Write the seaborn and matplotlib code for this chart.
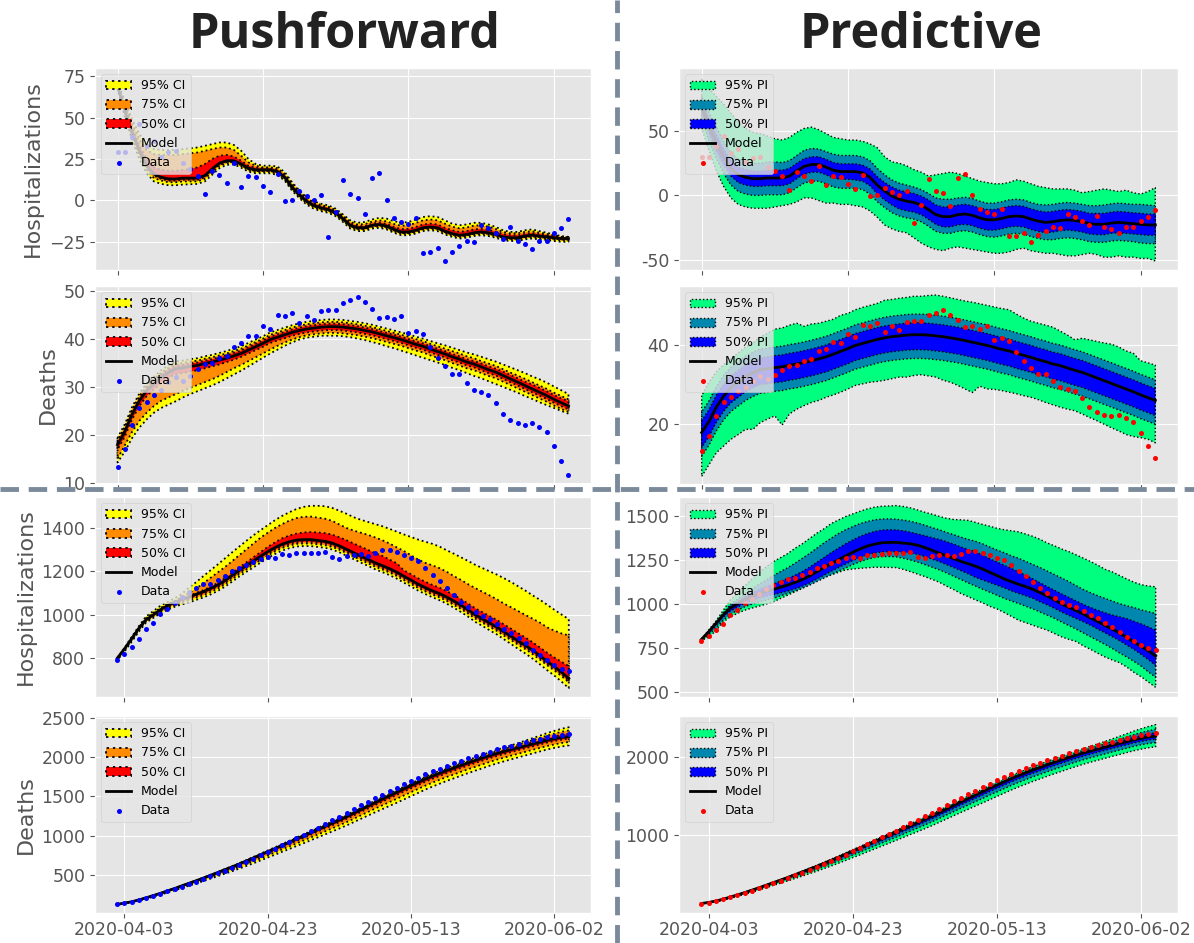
import numpy as np
import pandas as pd
import matplotlib
matplotlib.use("Agg")
import matplotlib.pyplot as plt
import matplotlib.dates as mdates
from matplotlib.lines import Line2D
from matplotlib.ticker import MultipleLocator, FuncFormatter
import seaborn as sns

plt.style.use("ggplot")
plt.rcParams["font.family"] = ["DejaVu Sans"]

# ---------------- dates ----------------
DATES_TOP = pd.date_range("2020-04-03", periods=63, freq="D")
DATES_BOT = pd.date_range("2020-04-02", periods=64, freq="D")
TICK_DATES = ["2020-04-03", "2020-04-23", "2020-05-13", "2020-06-02"]

# ---------------- row 1: daily change in hospitalizations ----------------
H1_DATA = [29.5, 29.5, 38.4, 46, 33, 36, 26, 29, 30, 22.4,
           19.2, 15, 4.2, 18, 15.3, 10.8, 22.9, 8.4, 15, 14.2,
           8.9, 5, 16, -0.5, 0, 6, 2.6, 0.5, 3.4, -21.8,
           -7.1, 12.4, 3.7, 1.6, -7.9, 13.4, 16.8, 0, -10.5, -12.9,
           -14.5, -10.5, -31.8, -31.3, -28.9, -36.6, -31, -27.6, -24.5, -25,
           -14.7, -16.8, -19.7, -23.2, -16.3, -24.5, -26, -29.5, -24.5, -24.5,
           -19.7, -16.6, -11.3]
H1_MODEL = [69, 54, 41, 30, 21, 16, 14, 13, 13, 13.5,
            13.5, 13.5, 15, 19, 22.5, 24, 24, 22, 19.5, 18.5,
            18.5, 18.5, 17.5, 14, 8, 3.5, -0.5, -3, -4.5, -5.5,
            -7.5, -11, -15, -16.5, -16.5, -15, -14.5, -15.5, -17.5, -19,
            -19, -18, -16.5, -16, -16.5, -18.5, -20, -21, -20.5, -19.5,
            -19, -19.5, -20.5, -22, -22.5, -22.5, -21.5, -21, -21.5, -22,
            -22.5, -23, -23]
H1_CI95_HI = [71, 60, 49, 40, 34, 31, 30.5, 30.5, 30.5, 31,
              31.5, 32, 33, 34, 35, 35, 33.5, 30, 25, 22,
              21, 21, 20.5, 17, 11, 6, 2, -0.5, -2, -3,
              -5, -8.5, -12, -13.5, -13, -11.5, -10.5, -11, -12.5, -13.5,
              -13, -11.5, -10, -9.5, -10, -12, -14, -15, -14.5, -13.5,
              -13.5, -14.5, -16, -18, -19, -19, -18, -17.5, -18.5, -19.5,
              -20.5, -21.5, -22]
H1_CI75_HI = [70.5, 58.5, 46.5, 37, 30.5, 28, 27.5, 27.5, 27.5, 28,
              28.5, 29, 30, 31, 32, 32, 30.5, 27, 23, 21,
              20, 20, 19.5, 16, 10, 5.3, 1.3, -1.2, -2.8, -3.8,
              -5.8, -9.3, -13, -14.5, -14.3, -12.8, -12, -12.6, -14.2, -15.3,
              -15, -13.6, -12, -11.5, -12, -14, -15.8, -16.8, -16.3, -15.2,
              -15, -15.8, -17.2, -19, -19.8, -19.8, -19, -18.6, -19.4, -20.2,
              -21, -22, -22.3]
H1_CI50_HI = [70, 57, 44, 33, 25, 20, 18.5, 18, 18, 18.5,
              19, 20, 22, 25, 27, 27.5, 26.5, 24, 21, 19.8,
              19.5, 19.5, 18.5, 15, 9, 4.5, 0.5, -2, -3.5, -4.5,
              -6.5, -10, -14, -15.5, -15.5, -14, -13.3, -14.2, -16, -17.3,
              -17.2, -16, -14.5, -14, -14.5, -16.5, -18, -19, -18.5, -17.5,
              -17.2, -17.8, -18.8, -20.3, -20.9, -21, -20.2, -19.7, -20.3, -20.9,
              -21.5, -22.2, -22.5]
H1_CI50_LO = [68.5, 53, 40, 29, 20, 15, 13, 12, 12, 12.5,
              12.5, 12.5, 14, 18, 21.5, 23.2, 23.3, 21.3, 18.8, 17.8,
              17.8, 17.8, 16.8, 13.3, 7.3, 2.8, -1.1, -3.6, -5.1, -6.1,
              -8.1, -11.6, -15.6, -17.1, -17.1, -15.6, -15.1, -16.1, -18.1, -19.6,
              -19.6, -18.6, -17.1, -16.6, -17.1, -19.1, -20.6, -21.6, -21.1, -20.1,
              -19.6, -20.1, -21.1, -22.6, -23.1, -23.1, -22.1, -21.6, -22.1, -22.6,
              -23.1, -23.6, -23.6]
H1_CI75_LO = [68, 52, 38.5, 27.5, 18.5, 13.5, 12, 11, 11, 11.5,
              11.5, 11.5, 13, 17, 20.8, 22.5, 22.7, 20.7, 18.2, 17.2,
              17.2, 17.2, 16.2, 12.7, 6.7, 2.2, -1.7, -4.2, -5.7, -6.7,
              -8.7, -12.2, -16.2, -17.7, -17.7, -16.2, -15.7, -16.7, -18.7, -20.2,
              -20.2, -19.2, -17.7, -17.2, -17.7, -19.7, -21.2, -22.2, -21.7, -20.7,
              -20.2, -20.7, -21.7, -23.2, -23.7, -23.7, -22.7, -22.2, -22.7, -23.2,
              -23.7, -24.2, -24.2]
H1_CI95_LO = [67.5, 50.5, 36.5, 25, 16.5, 11.5, 10, 9.2, 9.2, 9.6,
              9.8, 10, 11.5, 15.5, 19.5, 21.5, 21.8, 19.8, 17.4, 16.4,
              16.4, 16.4, 15.4, 11.9, 5.9, 1.4, -2.5, -5, -6.5, -7.5,
              -9.5, -13, -17, -18.5, -18.5, -17, -16.5, -17.5, -19.5, -21,
              -21, -20, -18.5, -18, -18.5, -20.5, -22, -23, -22.5, -21.5,
              -21, -21.5, -22.5, -24, -24.5, -24.5, -23.5, -23, -23.5, -24,
              -24.5, -25, -25]
H1_PI95_HI = [90, 83, 77, 71, 64, 57, 52, 49, 48, 46,
              44, 43, 45, 49, 52, 53, 51, 48, 45, 44,
              43, 43, 42, 40, 37, 30, 26, 25, 23, 20,
              18, 15, 16, 17, 18, 17, 15, 13, 11, 10,
              9, 9, 10, 12, 11, 9, 7, 6, 5, 5,
              5, 4, 2, 3, 4, 5, 4, 3, 4, 2,
              1, 3, 6]
H1_PI75_HI = [77, 64, 53, 42, 33, 28, 26, 25, 25, 26,
              26, 25.5, 27, 31, 35, 36.5, 36, 34, 32, 31,
              31, 31, 30, 27, 21, 16, 12, 9.5, 8, 6.5,
              4.5, 1.5, -2, -3, -3, -2, -1.5, -2.5, -4.5, -6,
              -6, -5, -3.5, -3, -3.5, -5.5, -7, -7.5, -7, -6,
              -5.5, -6, -7, -8, -8, -7.5, -6.5, -6, -6.5, -7,
              -7, -7.5, -8]
H1_PI50_HI = [73, 59, 47, 36, 27, 22, 20, 19, 19, 19.5,
              19.5, 19.5, 21, 25, 28.5, 30, 30, 28, 25.5, 24.5,
              24.5, 24.5, 23.5, 20.5, 14.5, 10, 6.5, 4, 2.5, 1.5,
              -0.5, -3.5, -7.5, -9, -9, -7.5, -7, -8, -10, -11,
              -11, -10, -8.5, -8, -8.5, -10.5, -12, -13, -12.5, -11.5,
              -11, -11.5, -12.5, -14, -14, -14, -13, -12.5, -13, -13.5,
              -14, -14.5, -14.5]
H1_PI50_LO = [65, 49, 35, 24, 15, 10, 8, 7, 7, 7.5,
              7.5, 7.5, 9, 13, 16.5, 18, 18, 16, 13.5, 12.5,
              12.5, 12, 11, 7.5, 1, -3.5, -7.5, -10.5, -12, -13,
              -15, -18.5, -22.5, -24.5, -24.5, -23, -22.5, -23.5, -25.5, -27,
              -27, -26, -24.5, -24, -24.5, -26.5, -28, -29, -28.5, -27.5,
              -27, -27.5, -28.5, -30, -30.5, -30.5, -29.5, -29, -29.5, -30,
              -30.5, -31, -31]
H1_PI75_LO = [60, 42, 29, 17, 8, 3, 1, 0, 0, 0.5,
              0.5, 0.5, 2, 6, 9.5, 11, 11, 9, 6.5, 5.5,
              5.5, 5.5, 4.5, 1, -5, -9.5, -13.5, -16, -17.5, -18.5,
              -20.5, -24, -28, -29.5, -29.5, -28, -27.5, -28.5, -30.5, -32,
              -32.5, -31.5, -30, -29.5, -30, -32, -33.5, -34.5, -34.5, -33.5,
              -33, -33.5, -34.5, -36, -36.5, -36.5, -35.5, -35, -35.5, -36,
              -37, -37.5, -37.5]
H1_PI95_LO = [52, 35, 19, 7, -2, -7, -9, -10, -10, -10,
              -9, -8, -7, -5, -2, -2, -4, -6, -6, -7,
              -7, -8, -9, -12, -17, -23, -26, -28, -29, -33,
              -37, -40, -42, -43, -41, -40, -41, -42, -43, -44,
              -45, -45, -44, -42, -41, -43, -44, -45, -45, -46,
              -47, -47, -46, -45, -46, -48, -48, -47, -48, -48,
              -49, -49, -51]

# ---------------- row 2: daily deaths ----------------
D1_DATA = [13.3, 17, 22.1, 25.5, 26.8, 28.4, 29.4, 31, 32.1, 31.3,
           32.3, 33.8, 34.7, 35, 36, 36.5, 38.4, 39.1, 40.7, 40.6,
           42.8, 42.1, 45, 44.8, 45.5, 43.3, 44.8, 43.9, 45.9, 46.1,
           46.1, 47.5, 48.2, 48.8, 47.7, 46.2, 44.5, 44.7, 44.1, 44.9,
           41.3, 41.7, 41, 38.3, 36, 34.3, 32.6, 32.8, 30.8, 29.4,
           28.9, 28.4, 26.7, 24.4, 23.1, 22.4, 22.1, 22.4, 21.6, 20.5,
           17.7, 14.6, 11.5]
D1_MODEL = [17.9, 20.7, 24.3, 27.1, 29.2, 30.6, 32, 33, 33.8, 34,
            34.3, 34.5, 34.9, 35.2, 35.6, 36, 36.5, 37, 37.7, 38.4,
            39.1, 39.9, 40.4, 40.9, 41.4, 41.8, 42.1, 42.3, 42.5, 42.6,
            42.6, 42.5, 42.3, 42.1, 41.8, 41.5, 41.1, 40.7, 40.3, 39.9,
            39.4, 38.9, 38.5, 37.9, 37.4, 36.9, 36.3, 35.8, 35.2, 34.8,
            34.2, 33.6, 33.1, 32.4, 31.7, 31, 30.3, 29.6, 28.9, 28.2,
            27.4, 26.7, 26]
D1_CI95_HI = [19.4, 22.2, 25.8, 28.6, 30.7, 32.1, 33.5, 34.5, 35.3, 35.5,
              35.8, 36, 36.4, 36.7, 37.1, 37.5, 38, 38.5, 39.2, 39.9,
              40.6, 41.4, 41.9, 42.4, 42.9, 43.3, 43.6, 43.8, 44, 44.1,
              44.1, 44, 43.8, 43.6, 43.3, 43, 42.6, 42.2, 41.8, 41.4,
              41, 40.5, 40.1, 39.6, 39.1, 38.7, 38.2, 37.7, 37.2, 36.8,
              36.3, 35.8, 35.3, 34.7, 34.1, 33.5, 32.9, 32.2, 31.6, 30.9,
              30.1, 29.3, 28.5]
D1_CI75_HI = [18.9, 21.7, 25.3, 28.1, 30.2, 31.6, 33, 34, 34.8, 35,
              35.3, 35.5, 35.9, 36.2, 36.6, 37, 37.5, 38, 38.7, 39.4,
              40.1, 40.9, 41.4, 41.9, 42.4, 42.8, 43.1, 43.3, 43.5, 43.6,
              43.6, 43.5, 43.3, 43.1, 42.8, 42.5, 42.1, 41.7, 41.3, 40.9,
              40.5, 40, 39.6, 39, 38.5, 38, 37.5, 37, 36.4, 36,
              35.4, 34.9, 34.4, 33.7, 33, 32.4, 31.7, 31, 30.3, 29.6,
              28.8, 28.1, 27.4]
D1_CI50_HI = [18.5, 21.3, 24.9, 27.7, 29.8, 31.2, 32.6, 33.6, 34.4, 34.6,
              34.9, 35.1, 35.5, 35.8, 36.2, 36.6, 37.1, 37.6, 38.3, 39,
              39.7, 40.5, 41, 41.5, 42, 42.4, 42.7, 42.9, 43.1, 43.2,
              43.2, 43.1, 42.9, 42.7, 42.4, 42.1, 41.7, 41.3, 40.9, 40.5,
              40, 39.5, 39.1, 38.5, 38, 37.5, 36.9, 36.4, 35.8, 35.4,
              34.9, 34.3, 33.8, 33.2, 32.5, 31.8, 31.1, 30.5, 29.8, 29.1,
              28.3, 27.6, 27]
D1_CI50_LO = [16.9, 19.6, 23.2, 26, 28.1, 29.5, 30.9, 31.9, 32.7, 32.9,
              33.2, 33.5, 33.9, 34.3, 34.7, 35.2, 35.7, 36.3, 37, 37.7,
              38.4, 39.2, 39.7, 40.2, 40.7, 41.1, 41.4, 41.6, 41.8, 41.9,
              41.9, 41.8, 41.6, 41.4, 41.1, 40.8, 40.4, 40, 39.6, 39.2,
              38.7, 38.2, 37.8, 37.2, 36.7, 36.2, 35.6, 35.1, 34.5, 34.1,
              33.5, 32.9, 32.4, 31.7, 31, 30.3, 29.6, 28.9, 28.2, 27.5,
              26.7, 26, 25.3]
D1_CI75_LO = [15, 17.8, 20.6, 22.9, 24.6, 26, 27.1, 27.8, 28.5, 29.2,
              29.8, 30.4, 31, 31.6, 32.3, 33.1, 33.9, 34.6, 35.4, 36.2,
              37, 37.8, 38.6, 39.3, 39.9, 40.4, 40.8, 41, 41.2, 41.3,
              41.3, 41.2, 41, 40.8, 40.5, 40.2, 39.8, 39.4, 39, 38.6,
              38.1, 37.6, 37.2, 36.6, 36.1, 35.6, 35, 34.5, 33.9, 33.5,
              32.9, 32.3, 31.8, 31.1, 30.4, 29.7, 29, 28.3, 27.6, 26.9,
              26.1, 25.4, 24.8]
D1_CI95_LO = [14.2, 16.5, 19.3, 21.5, 23.2, 24.6, 25.6, 26.3, 27, 27.8,
              28.5, 29.1, 29.7, 30.3, 31, 31.8, 32.6, 33.4, 34.3, 35.2,
              36.1, 37, 37.8, 38.6, 39.3, 39.9, 40.3, 40.5, 40.7, 40.7,
              40.7, 40.6, 40.4, 40.1, 39.8, 39.4, 39, 38.5, 38.1, 37.6,
              37.1, 36.6, 36.1, 35.6, 35.1, 34.6, 34, 33.5, 32.9, 32.3,
              31.8, 31.2, 30.6, 30, 29.4, 28.8, 28.1, 27.5, 26.8, 26.2,
              25.6, 25, 24.4]
D1_PI95_HI = [27.2, 30.6, 33.2, 35, 36.5, 38, 39.5, 40.5, 42, 43,
              44, 44.3, 45, 45.5, 44.7, 45.3, 45.5, 46, 46.5, 47.5,
              48, 48.9, 49.5, 50, 50.5, 51.3, 51.5, 51.8, 52, 52.3,
              52.3, 52.5, 52.6, 52.3, 51.9, 51.5, 51.1, 50.8, 50.4, 50,
              49.6, 49.2, 48.9, 47.8, 46.8, 46, 45.5, 45, 44.5, 43.5,
              42.5, 41.3, 41.7, 41.3, 40.9, 40.5, 40.2, 39.5, 38.5, 37.9,
              36, 35.5, 34.9]
D1_PI75_HI = [23.1, 25.9, 29.5, 32.3, 34.4, 35.8, 37.2, 38.2, 39, 39.2,
              39.5, 39.7, 40.1, 40.4, 40.8, 41.2, 41.7, 42.2, 42.9, 43.6,
              44.3, 45.1, 45.6, 46.1, 46.6, 47, 47.3, 47.5, 47.7, 47.8,
              47.8, 47.7, 47.5, 47.3, 47, 46.7, 46.3, 45.9, 45.5, 45.1,
              44.6, 44.1, 43.7, 43.1, 42.6, 42.1, 41.5, 41, 40.4, 40,
              39.4, 38.8, 38.3, 37.6, 36.9, 36.2, 35.5, 34.8, 34.1, 33.4,
              32.6, 31.9, 31.2]
D1_PI50_HI = [20.9, 23.7, 27.3, 30.1, 32.2, 33.6, 35, 36, 36.8, 37,
              37.3, 37.5, 37.9, 38.2, 38.6, 39, 39.5, 40, 40.7, 41.4,
              42.1, 42.9, 43.4, 43.9, 44.4, 44.8, 45.1, 45.3, 45.5, 45.6,
              45.6, 45.5, 45.3, 45.1, 44.8, 44.5, 44.1, 43.7, 43.3, 42.9,
              42.4, 41.9, 41.5, 40.9, 40.4, 39.9, 39.3, 38.8, 38.2, 37.8,
              37.2, 36.6, 36.1, 35.4, 34.7, 34, 33.3, 32.6, 31.9, 31.2,
              30.4, 29.7, 29]
D1_PI50_LO = [14.1, 16.9, 20.5, 23.3, 25.4, 26.8, 28.2, 29.2, 30, 30.2,
              30.5, 30.7, 31.1, 31.4, 31.8, 32.2, 32.7, 33.2, 33.9, 34.6,
              35.3, 36.1, 36.6, 37.1, 37.6, 38, 38.3, 38.5, 38.7, 38.8,
              38.8, 38.7, 38.5, 38.3, 38, 37.7, 37.3, 36.9, 36.5, 36.1,
              35.6, 35.1, 34.7, 34.1, 33.6, 33.1, 32.5, 32, 31.4, 31,
              30.4, 29.8, 29.3, 28.6, 27.9, 27.2, 26.5, 25.8, 25.1, 24.4,
              23.6, 22.9, 22.2]
D1_PI75_LO = [11.9, 14.7, 18.3, 21.1, 23.2, 24.6, 26, 27, 27.8, 28,
              28.3, 28.5, 28.9, 29.2, 29.6, 30, 30.5, 31, 31.7, 32.4,
              33.1, 33.9, 34.4, 34.9, 35.4, 35.8, 36.1, 36.3, 36.5, 36.6,
              36.6, 36.5, 36.3, 36.1, 35.8, 35.5, 35.1, 34.7, 34.3, 33.9,
              33.4, 32.9, 32.5, 31.9, 31.4, 30.9, 30.3, 29.8, 29.2, 28.8,
              28.2, 27.6, 27.1, 26.4, 25.7, 25, 24.3, 23.6, 22.9, 22.2,
              21.4, 20.7, 20]
D1_PI95_LO = [6.8, 9.8, 12.8, 14.5, 16.2, 17.4, 18.7, 18.7, 20.4, 21.3,
              22.1, 19.8, 22.6, 23.8, 24.7, 25.5, 26, 26.8, 27.4, 28.1,
              28.9, 29.8, 30.2, 30.6, 30.8, 31.1, 31.5, 31.9, 31.9, 32.3,
              32.5, 32.2, 31.9, 31.1, 30.6, 29.8, 28.9, 28, 29.6, 28.9,
              28.8, 28.5, 28.1, 27.7, 27.2, 26.8, 26.2, 25.5, 24.9, 24.3,
              23.8, 23.4, 22.6, 21.7, 20.9, 20, 19.1, 18.3, 17.4, 16.9,
              16.6, 16.2, 15.3]

# ---------------- row 3: hospitalizations ----------------
H2_DATA = [787, 817, 848, 887, 933, 963, 1002, 1027, 1054, 1081,
           1105, 1125, 1141, 1144, 1162, 1178, 1200, 1215, 1230, 1245,
           1258, 1265, 1262, 1279, 1275, 1284, 1287, 1287, 1287, 1292,
           1268, 1260, 1273, 1278, 1279, 1270, 1284, 1300, 1300, 1290,
           1276, 1262, 1249, 1217, 1186, 1157, 1121, 1089, 1059, 1035,
           1011, 995, 979, 957, 935, 916, 892, 868, 837, 811,
           789, 765, 749, 737]
H2_MODEL = [797, 840, 887, 935, 975, 998, 1022, 1041, 1057, 1070,
            1081, 1094, 1106, 1121, 1137, 1157, 1181, 1205, 1227, 1249,
            1271, 1292, 1311, 1327, 1338, 1346, 1348, 1348, 1344, 1340,
            1332, 1319, 1303, 1287, 1271, 1256, 1240, 1227, 1213, 1197,
            1178, 1160, 1141, 1125, 1110, 1097, 1081, 1062, 1043, 1021,
            998, 979, 960, 941, 919, 898, 876, 856, 833, 808,
            782, 758, 732, 703]
H2_CI95_HI = [797, 845, 895, 945, 990, 1015, 1040, 1058, 1075, 1095,
              1125, 1150, 1178, 1205, 1232, 1260, 1288, 1315, 1342, 1368,
              1392, 1415, 1438, 1458, 1475, 1490, 1500, 1505, 1505, 1503,
              1495, 1482, 1468, 1452, 1440, 1430, 1420, 1410, 1398, 1385,
              1372, 1360, 1348, 1338, 1328, 1315, 1298, 1282, 1265, 1248,
              1230, 1215, 1200, 1185, 1168, 1150, 1130, 1110, 1088, 1068,
              1045, 1022, 1000, 978]
H2_CI75_HI = [797, 843, 891, 940, 983, 1007, 1030, 1048, 1064, 1080,
              1100, 1120, 1145, 1170, 1195, 1220, 1247, 1275, 1302, 1330,
              1357, 1380, 1402, 1420, 1436, 1448, 1454, 1455, 1450, 1445,
              1435, 1418, 1402, 1390, 1380, 1370, 1358, 1345, 1330, 1312,
              1295, 1275, 1255, 1240, 1228, 1215, 1198, 1178, 1160, 1140,
              1122, 1105, 1088, 1070, 1050, 1033, 1015, 997, 980, 962,
              940, 925, 912, 903]
H2_CI50_HI = [797, 841, 889, 938, 979, 1002, 1026, 1045, 1061, 1074,
              1086, 1100, 1113, 1129, 1146, 1168, 1193, 1218, 1242, 1266,
              1290, 1314, 1335, 1354, 1367, 1376, 1381, 1383, 1381, 1378,
              1371, 1359, 1345, 1330, 1315, 1300, 1285, 1272, 1255, 1238,
              1205, 1187, 1168, 1152, 1137, 1124, 1108, 1090, 1071, 1050,
              1028, 1010, 992, 974, 953, 933, 912, 892, 870, 846,
              822, 800, 780, 760]
H2_CI50_LO = [792, 835, 882, 930, 970, 993, 1016, 1035, 1050, 1063,
              1073, 1086, 1097, 1112, 1128, 1148, 1172, 1195, 1217, 1239,
              1261, 1282, 1301, 1317, 1328, 1336, 1338, 1338, 1334, 1330,
              1322, 1309, 1293, 1277, 1261, 1246, 1230, 1217, 1203, 1187,
              1168, 1150, 1131, 1115, 1100, 1087, 1071, 1052, 1033, 1011,
              988, 969, 950, 931, 909, 888, 866, 846, 823, 798,
              772, 748, 722, 693]
H2_CI75_LO = [789, 832, 879, 927, 966, 988, 1011, 1029, 1044, 1056,
              1066, 1078, 1089, 1104, 1120, 1140, 1163, 1187, 1209, 1231,
              1253, 1274, 1293, 1309, 1320, 1328, 1330, 1330, 1326, 1322,
              1314, 1301, 1285, 1269, 1253, 1238, 1222, 1209, 1195, 1179,
              1160, 1142, 1123, 1107, 1092, 1079, 1063, 1044, 1025, 1003,
              980, 961, 942, 923, 901, 880, 858, 838, 815, 790,
              764, 740, 714, 685]
H2_CI95_LO = [787, 828, 873, 920, 962, 984, 1005, 1022, 1036, 1047,
              1056, 1068, 1079, 1093, 1109, 1129, 1152, 1176, 1198, 1219,
              1241, 1262, 1281, 1297, 1308, 1316, 1318, 1318, 1314, 1310,
              1302, 1289, 1273, 1257, 1241, 1226, 1210, 1197, 1183, 1167,
              1148, 1130, 1111, 1095, 1080, 1066, 1050, 1031, 1011, 989,
              965, 946, 926, 907, 884, 862, 839, 818, 794, 768,
              741, 716, 688, 658]
H2_PI95_HI = [797, 850, 900, 960, 1020, 1060, 1100, 1140, 1175, 1210,
              1239, 1262, 1285, 1315, 1340, 1370, 1400, 1425, 1455, 1475,
              1495, 1510, 1525, 1538, 1548, 1553, 1555, 1557, 1552, 1544,
              1532, 1519, 1508, 1496, 1485, 1478, 1476, 1473, 1462, 1450,
              1440, 1428, 1420, 1414, 1408, 1395, 1382, 1365, 1344, 1328,
              1310, 1295, 1277, 1258, 1239, 1218, 1195, 1180, 1160, 1140,
              1122, 1108, 1100, 1096]
H2_PI75_HI = [797, 845, 893, 945, 995, 1025, 1055, 1085, 1110, 1135,
              1160, 1183, 1205, 1230, 1258, 1285, 1315, 1345, 1372, 1398,
              1420, 1438, 1455, 1467, 1476, 1481, 1482, 1480, 1475, 1468,
              1458, 1446, 1432, 1420, 1405, 1392, 1378, 1365, 1355, 1340,
              1322, 1305, 1290, 1272, 1258, 1240, 1222, 1205, 1185, 1165,
              1145, 1125, 1102, 1080, 1062, 1045, 1030, 1015, 1000, 988,
              978, 965, 955, 944]
H2_PI50_HI = [797, 843, 890, 940, 985, 1010, 1037, 1060, 1080, 1097,
              1112, 1128, 1143, 1162, 1183, 1207, 1235, 1262, 1290, 1315,
              1340, 1362, 1382, 1398, 1410, 1418, 1420, 1419, 1414, 1406,
              1396, 1386, 1375, 1365, 1352, 1338, 1322, 1308, 1295, 1275,
              1255, 1237, 1218, 1200, 1180, 1160, 1140, 1118, 1096, 1076,
              1055, 1035, 1015, 995, 978, 962, 948, 935, 925, 915,
              900, 885, 868, 849]
H2_PI50_LO = [793, 832, 875, 922, 958, 980, 1002, 1018, 1032, 1043,
              1052, 1062, 1072, 1085, 1100, 1118, 1140, 1162, 1184, 1205,
              1225, 1245, 1262, 1278, 1288, 1294, 1296, 1296, 1292, 1287,
              1280, 1268, 1253, 1239, 1222, 1205, 1188, 1170, 1150, 1135,
              1120, 1105, 1090, 1073, 1058, 1045, 1030, 1010, 993, 973,
              952, 933, 915, 897, 877, 855, 834, 812, 790, 765,
              740, 712, 682, 649]
H2_PI75_LO = [791, 822, 860, 905, 940, 962, 982, 997, 1010, 1020,
              1030, 1045, 1058, 1072, 1088, 1105, 1125, 1145, 1165, 1185,
              1203, 1222, 1238, 1252, 1262, 1267, 1268, 1266, 1258, 1248,
              1236, 1222, 1207, 1192, 1175, 1155, 1137, 1118, 1100, 1082,
              1065, 1048, 1030, 1015, 1001, 985, 970, 952, 934, 916,
              895, 875, 855, 833, 811, 790, 768, 745, 720, 697,
              672, 645, 612, 582]
H2_PI95_LO = [790, 810, 845, 895, 925, 945, 963, 975, 986, 998,
              1011, 1030, 1049, 1068, 1087, 1110, 1134, 1150, 1163, 1178,
              1192, 1197, 1201, 1204, 1207, 1207, 1206, 1205, 1195, 1182,
              1168, 1154, 1138, 1122, 1100, 1080, 1058, 1040, 1022, 1005,
              985, 970, 950, 928, 906, 892, 877, 863, 849, 830,
              811, 797, 785, 760, 740, 718, 697, 680, 665, 640,
              610, 585, 555, 525]

# ---------------- row 4: cumulative deaths ----------------
D2_DATA = [126, 139, 156, 178, 204, 231, 259, 289, 320, 352,
           383, 415, 449, 484, 519, 555, 591, 630, 669, 709,
           750, 793, 835, 880, 925, 970, 1014, 1058, 1102, 1148,
           1194, 1240, 1288, 1336, 1385, 1433, 1479, 1523, 1568, 1612,
           1657, 1698, 1740, 1781, 1819, 1855, 1890, 1922, 1955, 1986,
           2015, 2044, 2072, 2099, 2124, 2147, 2169, 2191, 2214, 2235,
           2256, 2273, 2288, 2299]
D2_MODEL = [126, 140, 158, 181, 208, 236, 265, 296, 327, 360,
            393, 425, 459, 494, 529, 565, 600, 638, 676, 715,
            755, 795, 834, 875, 915, 955, 995, 1036, 1077, 1118,
            1159, 1200, 1242, 1287, 1332, 1377, 1422, 1465, 1509, 1552,
            1597, 1638, 1680, 1721, 1759, 1795, 1831, 1863, 1897, 1929,
            1960, 1990, 2020, 2048, 2073, 2097, 2121, 2145, 2169, 2192,
            2216, 2235, 2252, 2264]
D2_CI95_HI = [126, 141, 159, 183, 210, 239, 268, 300, 331, 365,
              398, 431, 466, 502, 538, 575, 611, 650, 689, 729,
              770, 811, 851, 893, 934, 975, 1016, 1058, 1100, 1142,
              1179, 1221, 1264, 1310, 1355, 1401, 1447, 1491, 1535, 1579,
              1625, 1667, 1710, 1751, 1790, 1827, 1864, 1897, 1932, 1965,
              1998, 2030, 2063, 2094, 2123, 2152, 2182, 2213, 2244, 2275,
              2308, 2336, 2362, 2382]
D2_CI75_HI = [126, 141, 159, 182, 209, 238, 267, 299, 330, 363,
              396, 429, 464, 499, 535, 572, 607, 646, 684, 724,
              765, 805, 845, 887, 927, 968, 1009, 1050, 1092, 1134,
              1172, 1214, 1256, 1302, 1347, 1393, 1438, 1482, 1526, 1570,
              1615, 1657, 1700, 1741, 1779, 1816, 1852, 1885, 1920, 1952,
              1985, 2016, 2048, 2078, 2106, 2133, 2161, 2189, 2218, 2246,
              2276, 2301, 2324, 2341]
D2_CI50_HI = [126, 140, 158, 182, 209, 237, 266, 297, 328, 362,
              395, 427, 461, 496, 532, 568, 603, 642, 680, 719,
              760, 800, 839, 880, 921, 961, 1001, 1043, 1084, 1125,
              1165, 1206, 1249, 1294, 1339, 1384, 1430, 1473, 1517, 1560,
              1605, 1647, 1689, 1730, 1768, 1805, 1841, 1873, 1908, 1940,
              1971, 2002, 2033, 2062, 2088, 2114, 2139, 2165, 2192, 2217,
              2244, 2265, 2285, 2299]
D2_CI50_LO = [126, 139, 156, 179, 205, 232, 261, 291, 321, 353,
              386, 417, 450, 484, 518, 553, 587, 624, 661, 698,
              738, 777, 815, 855, 894, 933, 972, 1012, 1053, 1093,
              1133, 1173, 1214, 1258, 1303, 1347, 1391, 1434, 1477, 1519,
              1563, 1604, 1646, 1688, 1726, 1762, 1798, 1830, 1864, 1896,
              1927, 1958, 1988, 2016, 2042, 2066, 2091, 2115, 2139, 2162,
              2187, 2206, 2223, 2236]
D2_CI75_LO = [126, 138, 154, 175, 201, 227, 254, 283, 312, 343,
              374, 404, 435, 468, 500, 534, 567, 602, 638, 674,
              712, 749, 786, 825, 863, 901, 939, 977, 1016, 1055,
              1094, 1133, 1173, 1216, 1259, 1303, 1346, 1387, 1429, 1470,
              1513, 1555, 1597, 1638, 1677, 1713, 1749, 1781, 1816, 1848,
              1879, 1910, 1941, 1970, 1995, 2021, 2045, 2070, 2095, 2119,
              2143, 2163, 2181, 2194]
D2_CI95_LO = [126, 137, 152, 172, 196, 221, 247, 275, 303, 333,
              363, 391, 421, 452, 483, 515, 546, 580, 614, 649,
              685, 722, 757, 795, 831, 868, 904, 942, 979, 1017,
              1054, 1092, 1131, 1173, 1215, 1257, 1299, 1339, 1380, 1420,
              1462, 1504, 1546, 1588, 1626, 1663, 1699, 1732, 1766, 1799,
              1830, 1861, 1893, 1922, 1948, 1974, 1999, 2024, 2049, 2074,
              2099, 2119, 2137, 2151]
D2_PI95_HI = [129, 143, 162, 185, 213, 241, 271, 302, 334, 367,
              401, 434, 469, 505, 541, 578, 614, 653, 692, 732,
              773, 814, 854, 896, 937, 978, 1019, 1061, 1103, 1145,
              1187, 1229, 1271, 1317, 1363, 1408, 1454, 1498, 1543, 1587,
              1633, 1675, 1718, 1760, 1799, 1836, 1873, 1906, 1941, 1974,
              2007, 2040, 2073, 2105, 2135, 2165, 2196, 2228, 2261, 2294,
              2328, 2358, 2386, 2409]
D2_PI75_HI = [128, 142, 160, 183, 211, 239, 269, 300, 331, 364,
              398, 430, 465, 501, 536, 573, 608, 647, 686, 725,
              766, 806, 846, 888, 928, 969, 1009, 1051, 1093, 1134,
              1176, 1217, 1259, 1305, 1351, 1396, 1441, 1485, 1529, 1573,
              1619, 1660, 1703, 1744, 1783, 1820, 1856, 1889, 1923, 1956,
              1988, 2020, 2052, 2082, 2110, 2138, 2166, 2195, 2224, 2253,
              2283, 2309, 2332, 2351]
D2_PI50_HI = [127, 141, 159, 182, 209, 237, 267, 298, 329, 362,
              395, 428, 462, 497, 532, 569, 604, 642, 680, 720,
              760, 800, 840, 881, 921, 961, 1002, 1043, 1084, 1126,
              1167, 1208, 1250, 1295, 1341, 1386, 1431, 1474, 1519, 1562,
              1607, 1648, 1691, 1732, 1770, 1806, 1843, 1875, 1909, 1942,
              1973, 2004, 2035, 2064, 2090, 2116, 2142, 2168, 2195, 2221,
              2247, 2269, 2290, 2305]
D2_PI50_LO = [125, 138, 155, 177, 204, 231, 259, 289, 319, 351,
              383, 414, 447, 480, 514, 549, 583, 619, 656, 694,
              733, 772, 810, 850, 889, 928, 967, 1007, 1047, 1087,
              1127, 1167, 1208, 1252, 1296, 1341, 1385, 1427, 1470, 1512,
              1556, 1597, 1639, 1680, 1718, 1754, 1790, 1822, 1856, 1888,
              1919, 1950, 1980, 2008, 2033, 2058, 2082, 2106, 2130, 2153,
              2177, 2196, 2213, 2226]
D2_PI75_LO = [124, 136, 152, 173, 198, 225, 252, 280, 310, 341,
              372, 401, 433, 465, 497, 531, 563, 598, 633, 670,
              707, 745, 782, 821, 859, 897, 934, 973, 1012, 1051,
              1090, 1129, 1169, 1213, 1256, 1299, 1342, 1383, 1426, 1467,
              1510, 1551, 1593, 1634, 1672, 1708, 1744, 1776, 1810, 1842,
              1873, 1904, 1934, 1962, 1988, 2012, 2036, 2061, 2085, 2109,
              2133, 2152, 2169, 2182]
D2_PI95_LO = [123, 134, 148, 168, 192, 217, 243, 270, 298, 328,
              358, 386, 415, 446, 476, 508, 538, 572, 605, 640,
              675, 712, 747, 785, 821, 858, 894, 932, 969, 1007,
              1044, 1082, 1121, 1163, 1205, 1247, 1289, 1329, 1370, 1410,
              1452, 1493, 1535, 1576, 1614, 1650, 1686, 1718, 1752, 1784,
              1815, 1846, 1876, 1905, 1931, 1956, 1980, 2005, 2029, 2053,
              2077, 2097, 2114, 2127]

CI_COLORS = ["#FFFF00", "#FF8C00", "#FF0000"]
PI_COLORS = ["#00FF7F", "#0087AD", "#0000FF"]
LEVELS = ["95%", "75%", "50%"]

W, H = 1194, 943
fig = plt.figure(figsize=(W / 100, H / 100), dpi=100)

COLS = {"L": (95, 591), "R": (679, 1178)}
ROWS = [(68, 270), (286, 484), (497, 697), (716, 913)]


def make_ax(col, row):
    x0, x1 = COLS[col]
    y0, y1 = ROWS[row]
    return fig.add_axes([x0 / W, 1 - y1 / H, (x1 - x0) / W, (y1 - y0) / H])


def draw(ax, x, bands, model, data, colors, tag, dot_color, ylabel, ylim,
         step, bottom, hyphen, lw_edge):
    handles = []
    for (lo, hi), c, lev in zip(bands, colors, LEVELS):
        h = ax.fill_between(x, lo, hi, facecolor=c, edgecolor="black",
                            linestyle=":", linewidth=lw_edge,
                            label=f"{lev} {tag}", zorder=1)
        handles.append(h)
    sns.lineplot(x=x, y=model, color="black", linewidth=2, ax=ax,
                 label="Model", zorder=2)
    line = ax.lines[-1]
    sns.scatterplot(x=x, y=data, color=dot_color, s=13, linewidth=0,
                    ax=ax, label="Data", zorder=3)
    scat = ax.collections[-1]
    ax.legend(handles + [line, scat],
              [f"{l} {tag}" for l in LEVELS] + ["Model", "Data"],
              loc="upper left", fontsize=9, scatterpoints=1)
    ax.set_ylim(*ylim)
    ax.yaxis.set_major_locator(MultipleLocator(step))
    if hyphen:
        ax.yaxis.set_major_formatter(FuncFormatter(lambda v, p: f"{v:g}"))
    pad = pd.Timedelta(days=3.1)
    ax.set_xlim(x[0] - pad, x[-1] + pad)
    ax.set_xticks(pd.to_datetime(TICK_DATES))
    ax.xaxis.set_major_formatter(mdates.DateFormatter("%Y-%m-%d"))
    ax.tick_params(labelsize=12.5, colors="#555555")
    ax.tick_params(axis="x", labelbottom=bottom, pad=2.5)
    ax.set_xlabel("")
    ax.set_ylabel(ylabel if ylabel else "", fontsize=16, color="#555555")


rows = [
    (DATES_TOP, H1_MODEL, H1_DATA,
     [(H1_CI95_LO, H1_CI95_HI), (H1_CI75_LO, H1_CI75_HI), (H1_CI50_LO, H1_CI50_HI)],
     [(H1_PI95_LO, H1_PI95_HI), (H1_PI75_LO, H1_PI75_HI), (H1_PI50_LO, H1_PI50_HI)],
     "Hospitalizations", (-42, 80), 25, (-58, 99), 50),
    (DATES_TOP, D1_MODEL, D1_DATA,
     [(D1_CI95_LO, D1_CI95_HI), (D1_CI75_LO, D1_CI75_HI), (D1_CI50_LO, D1_CI50_HI)],
     [(D1_PI95_LO, D1_PI95_HI), (D1_PI75_LO, D1_PI75_HI), (D1_PI50_LO, D1_PI50_HI)],
     "Deaths", (9.7, 51.1), 10, (4.9, 54.9), 20),
    (DATES_BOT, H2_MODEL, H2_DATA,
     [(H2_CI95_LO, H2_CI95_HI), (H2_CI75_LO, H2_CI75_HI), (H2_CI50_LO, H2_CI50_HI)],
     [(H2_PI95_LO, H2_PI95_HI), (H2_PI75_LO, H2_PI75_HI), (H2_PI50_LO, H2_PI50_HI)],
     "Hospitalizations", (617, 1546), 200, (470, 1606), 250),
    (DATES_BOT, D2_MODEL, D2_DATA,
     [(D2_CI95_LO, D2_CI95_HI), (D2_CI75_LO, D2_CI75_HI), (D2_CI50_LO, D2_CI50_HI)],
     [(D2_PI95_LO, D2_PI95_HI), (D2_PI75_LO, D2_PI75_HI), (D2_PI50_LO, D2_PI50_HI)],
     "Deaths", (15, 2525), 500, (5, 2520), 1000),
]

for i, (x, model, data, ci, pi, ylab, ylim_l, step_l, ylim_r, step_r) in enumerate(rows):
    axl = make_ax("L", i)
    draw(axl, x, ci, model, data, CI_COLORS, "CI", "blue", ylab, ylim_l,
         step_l, i == 3, False, 1.3)
    axr = make_ax("R", i)
    draw(axr, x, pi, model, data, PI_COLORS, "PI", "red", None, ylim_r,
         step_r, i == 3, True, 1.0)

# titles
fig.text(345 / W, 1 - 35 / H, "Pushforward", ha="center", va="center",
         fontsize=35, fontweight="bold", family=["Open Sans", "DejaVu Sans"],
         color="#222222")
fig.text(921 / W, 1 - 35 / H, "Predictive", ha="center", va="center",
         fontsize=35, fontweight="bold", family=["Open Sans", "DejaVu Sans"],
         color="#222222")

# dashed separators
sep = "#7B8A9A"
fig.add_artist(Line2D([617 / W, 617 / W], [0, 1], transform=fig.transFigure,
                      color=sep, linewidth=3.5, dashes=(3.8, 2.0)))
fig.add_artist(Line2D([0, 1], [1 - 489 / H, 1 - 489 / H], transform=fig.transFigure,
                      color=sep, linewidth=3.5, dashes=(3.8, 2.0)))

fig.savefig("out.png", dpi=100)
